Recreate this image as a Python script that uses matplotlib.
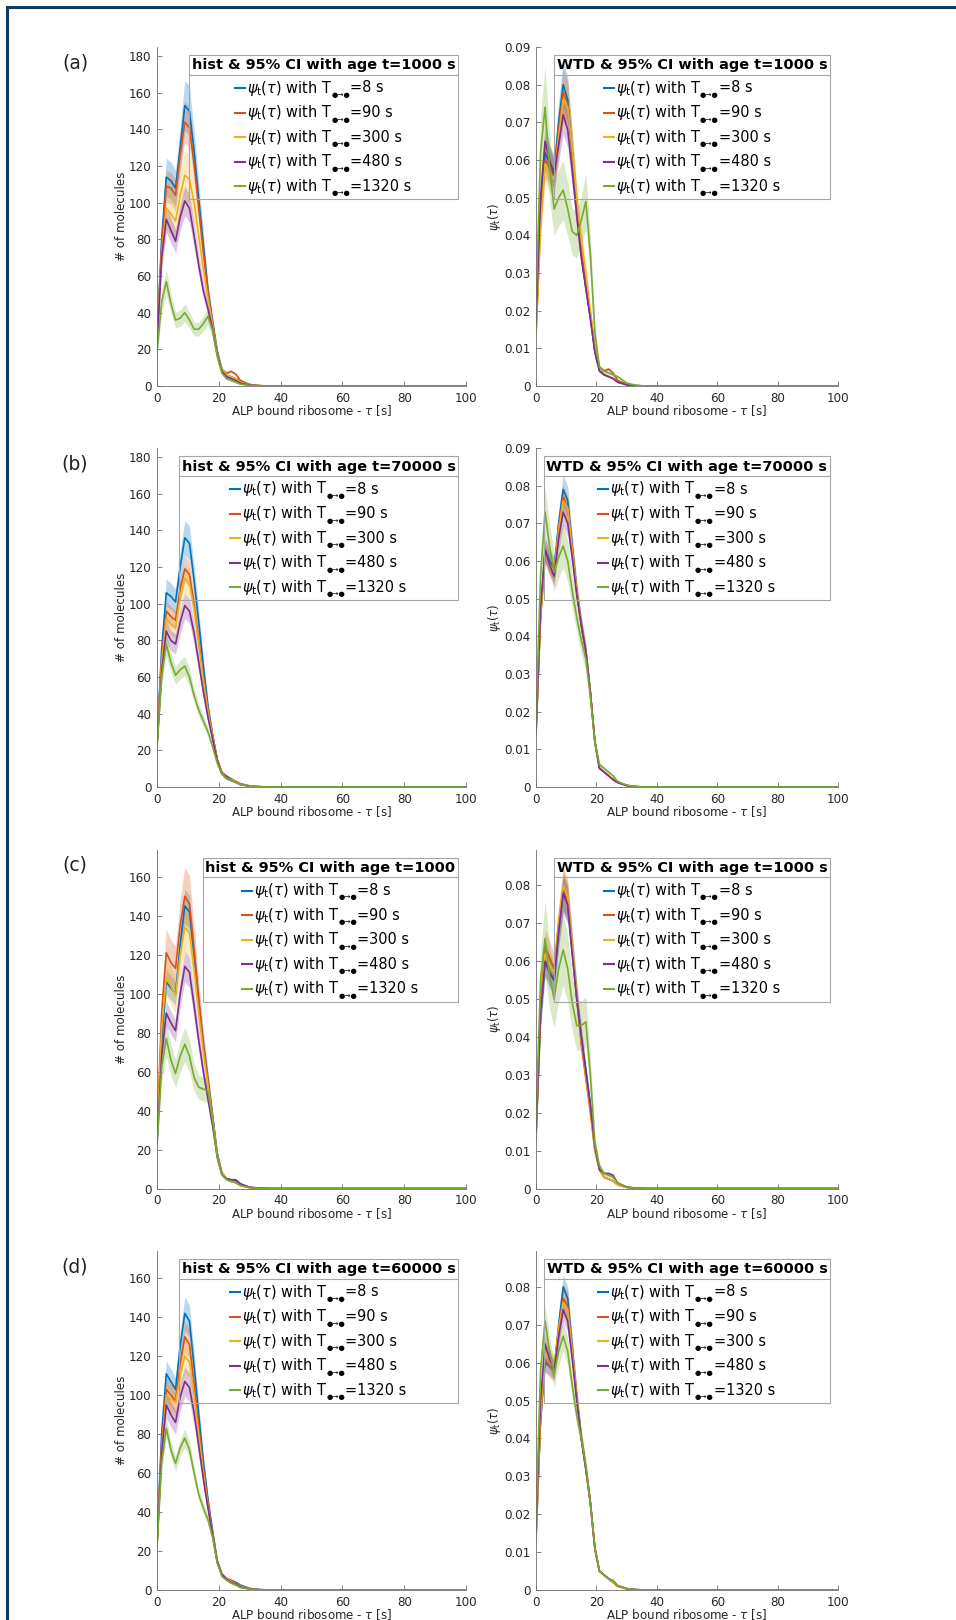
import numpy as np
import matplotlib
matplotlib.use("Agg")
import matplotlib.pyplot as plt
from matplotlib.lines import Line2D
from matplotlib.patches import Rectangle
from matplotlib.ticker import FuncFormatter

# ---------------- data ----------------
TAU = [0, 1.5, 3, 4.5, 6, 7.5, 9, 10.5, 12, 13.5, 15, 16.5, 18, 19.5, 21,
       22.5, 24, 25.5, 27, 30, 33, 36, 100]
T_LABELS = ["8 s", "90 s", "300 s", "480 s", "1320 s"]
PANEL_TAGS = ["(a)", "(b)", "(c)", "(d)"]
HIST_TITLES = ["hist & 95% CI with age t=1000 s", "hist & 95% CI with age t=70000 s",
               "hist & 95% CI with age t=1000", "hist & 95% CI with age t=60000 s"]
WTD_TITLES = ["WTD & 95% CI with age t=1000 s", "WTD & 95% CI with age t=70000 s",
              "WTD & 95% CI with age t=1000 s", "WTD & 95% CI with age t=60000 s"]

HIST_A = [
    [25, 80, 114, 112, 108, 130, 153, 150, 128, 102, 77, 52, 35, 19, 9, 6, 5, 4, 2.5, 0.8, 0.2, 0, 0],
    [25, 76, 109, 108, 104, 126, 144, 141, 121, 97, 73, 51, 34, 18, 9, 7, 8, 6.5, 3, 0.8, 0.2, 0, 0],
    [24, 72, 97, 94, 90, 104, 115, 113, 100, 82, 64, 48, 33, 18, 9, 6, 5, 4, 2, 0.6, 0.2, 0, 0],
    [22, 70, 91, 85, 79, 92, 101, 97, 82, 66, 52, 42, 31, 17, 8, 5, 4, 3, 1.5, 0.5, 0.1, 0, 0],
    [18, 46, 57, 45, 36, 37, 40, 36, 31, 31, 34, 38, 30, 16, 7, 4, 3, 2, 1, 0.3, 0.1, 0, 0],
]
WTD_A = [
    [0.015, 0.047, 0.062, 0.059, 0.057, 0.070, 0.080, 0.076, 0.062, 0.047, 0.035, 0.026, 0.018, 0.009, 0.004, 0.003, 0.0025, 0.002, 0.0012, 0.0004, 0.0001, 0, 0],
    [0.014, 0.044, 0.060, 0.058, 0.056, 0.068, 0.078, 0.075, 0.062, 0.048, 0.036, 0.027, 0.019, 0.010, 0.005, 0.004, 0.0045, 0.0035, 0.0015, 0.0005, 0.0001, 0, 0],
    [0.013, 0.042, 0.059, 0.056, 0.055, 0.066, 0.076, 0.074, 0.063, 0.050, 0.039, 0.030, 0.020, 0.010, 0.005, 0.003, 0.0025, 0.002, 0.001, 0.0003, 0.0001, 0, 0],
    [0.017, 0.050, 0.065, 0.060, 0.056, 0.064, 0.072, 0.068, 0.057, 0.045, 0.034, 0.026, 0.018, 0.009, 0.004, 0.003, 0.0025, 0.002, 0.001, 0.0003, 0.0001, 0, 0],
    [0.022, 0.062, 0.074, 0.058, 0.047, 0.050, 0.052, 0.047, 0.041, 0.040, 0.044, 0.049, 0.035, 0.014, 0.005, 0.004, 0.0035, 0.003, 0.0025, 0.0008, 0.0002, 0, 0],
]
HIST_B = [
    [25, 75, 106, 104, 101, 120, 136, 133, 113, 90, 66, 44, 28, 15, 8, 6, 4.5, 3, 1.8, 0.6, 0.2, 0, 0],
    [24, 70, 96, 93, 91, 108, 119, 116, 100, 80, 60, 42, 28, 15, 8, 5.5, 4, 3, 1.6, 0.5, 0.2, 0, 0],
    [23, 68, 92, 89, 87, 103, 114, 111, 97, 78, 58, 41, 27, 14, 7.5, 5, 4, 2.8, 1.5, 0.5, 0.2, 0, 0],
    [22, 63, 85, 80, 78, 90, 99, 96, 84, 68, 52, 38, 26, 14, 7, 5, 3.5, 2.5, 1.3, 0.4, 0.1, 0, 0],
    [22, 60, 78, 68, 61, 64, 66, 60, 50, 42, 36, 30, 22, 13, 7, 4.5, 3.5, 2.5, 1.2, 0.4, 0.1, 0, 0],
]
WTD_B = [
    [0.014, 0.046, 0.063, 0.060, 0.058, 0.070, 0.079, 0.076, 0.064, 0.052, 0.043, 0.036, 0.025, 0.012, 0.005, 0.004, 0.003, 0.002, 0.0012, 0.0004, 0.0001, 0, 0],
    [0.014, 0.045, 0.062, 0.059, 0.057, 0.069, 0.077, 0.074, 0.063, 0.052, 0.043, 0.036, 0.025, 0.012, 0.005, 0.004, 0.003, 0.002, 0.0012, 0.0004, 0.0001, 0, 0],
    [0.014, 0.045, 0.062, 0.059, 0.057, 0.068, 0.076, 0.074, 0.063, 0.052, 0.043, 0.036, 0.025, 0.012, 0.005, 0.004, 0.003, 0.002, 0.0012, 0.0004, 0.0001, 0, 0],
    [0.015, 0.047, 0.063, 0.059, 0.056, 0.066, 0.073, 0.070, 0.061, 0.051, 0.043, 0.036, 0.025, 0.012, 0.005, 0.004, 0.003, 0.002, 0.0012, 0.0004, 0.0001, 0, 0],
    [0.018, 0.056, 0.073, 0.064, 0.057, 0.061, 0.064, 0.060, 0.052, 0.045, 0.039, 0.034, 0.024, 0.012, 0.006, 0.005, 0.004, 0.003, 0.0015, 0.0005, 0.0001, 0, 0],
]
HIST_C = [
    [25, 75, 106, 103, 100, 125, 145, 142, 120, 96, 74, 56, 37, 18, 8, 5, 4.5, 4, 2, 0.6, 0.2, 0, 0],
    [28, 90, 121, 116, 113, 135, 150, 146, 123, 97, 74, 55, 36, 17, 8, 5, 4, 3, 1.6, 0.5, 0.2, 0, 0],
    [26, 82, 108, 104, 99, 120, 134, 131, 112, 90, 70, 53, 35, 17, 8, 5, 4, 3, 1.5, 0.5, 0.2, 0, 0],
    [23, 68, 90, 85, 81, 100, 114, 111, 94, 76, 60, 46, 32, 16, 7, 5, 4.5, 4.5, 2.5, 0.6, 0.2, 0, 0],
    [22, 62, 77, 66, 59, 68, 74, 68, 57, 52, 51, 50, 35, 16, 7, 4.5, 3.5, 3, 1.5, 0.4, 0.1, 0, 0],
]
WTD_C = [
    [0.014, 0.045, 0.060, 0.057, 0.055, 0.068, 0.078, 0.075, 0.063, 0.051, 0.040, 0.031, 0.022, 0.011, 0.005, 0.003, 0.0025, 0.002, 0.001, 0.0003, 0.0001, 0, 0],
    [0.013, 0.048, 0.064, 0.061, 0.058, 0.070, 0.079, 0.076, 0.063, 0.050, 0.038, 0.029, 0.020, 0.010, 0.005, 0.003, 0.0025, 0.002, 0.001, 0.0003, 0.0001, 0, 0],
    [0.013, 0.046, 0.062, 0.059, 0.057, 0.070, 0.080, 0.077, 0.064, 0.051, 0.039, 0.030, 0.021, 0.010, 0.005, 0.003, 0.0025, 0.002, 0.001, 0.0003, 0.0001, 0, 0],
    [0.015, 0.046, 0.060, 0.057, 0.055, 0.068, 0.078, 0.075, 0.062, 0.050, 0.040, 0.031, 0.022, 0.011, 0.005, 0.004, 0.004, 0.0035, 0.0015, 0.0004, 0.0001, 0, 0],
    [0.018, 0.055, 0.066, 0.056, 0.050, 0.058, 0.063, 0.058, 0.049, 0.043, 0.043, 0.044, 0.030, 0.012, 0.006, 0.004, 0.0035, 0.003, 0.0015, 0.0004, 0.0001, 0, 0],
]
HIST_D = [
    [25, 80, 111, 107, 103, 125, 142, 138, 115, 90, 66, 46, 30, 15, 8, 6, 5, 4, 2.5, 0.8, 0.2, 0, 0],
    [24, 75, 103, 100, 97, 116, 130, 126, 106, 84, 63, 45, 29, 15, 8, 6, 5, 3.5, 2, 0.6, 0.2, 0, 0],
    [23, 72, 100, 98, 96, 110, 120, 117, 100, 80, 60, 43, 28, 14, 8, 6, 4.5, 3, 1.8, 0.5, 0.2, 0, 0],
    [23, 70, 95, 90, 86, 99, 107, 104, 91, 74, 57, 42, 28, 14, 8, 5.5, 4, 3, 1.5, 0.5, 0.2, 0, 0],
    [22, 65, 83, 72, 65, 73, 78, 72, 60, 49, 42, 36, 27, 14, 7, 5, 3.5, 2.5, 1.2, 0.4, 0.1, 0, 0],
]
WTD_D = [
    [0.014, 0.045, 0.060, 0.059, 0.058, 0.070, 0.080, 0.077, 0.064, 0.051, 0.040, 0.032, 0.023, 0.011, 0.005, 0.004, 0.003, 0.002, 0.001, 0.0003, 0.0001, 0, 0],
    [0.013, 0.045, 0.061, 0.059, 0.058, 0.069, 0.077, 0.075, 0.063, 0.051, 0.040, 0.032, 0.023, 0.011, 0.005, 0.004, 0.003, 0.002, 0.001, 0.0003, 0.0001, 0, 0],
    [0.013, 0.046, 0.063, 0.061, 0.059, 0.069, 0.076, 0.074, 0.063, 0.051, 0.040, 0.032, 0.023, 0.011, 0.005, 0.004, 0.003, 0.002, 0.001, 0.0003, 0.0001, 0, 0],
    [0.016, 0.050, 0.065, 0.061, 0.058, 0.067, 0.074, 0.071, 0.061, 0.050, 0.040, 0.032, 0.023, 0.011, 0.005, 0.004, 0.003, 0.0025, 0.0012, 0.0004, 0.0001, 0, 0],
    [0.018, 0.058, 0.071, 0.063, 0.057, 0.063, 0.067, 0.063, 0.054, 0.046, 0.040, 0.033, 0.023, 0.011, 0.005, 0.004, 0.003, 0.0025, 0.0012, 0.0004, 0.0001, 0, 0],
]
# estimated relative half-width of the 95% CI band, per series
CI_HIST = [[0.09, 0.08, 0.12, 0.08, 0.12], [0.07, 0.06, 0.07, 0.07, 0.08],
           [0.06, 0.10, 0.09, 0.07, 0.12], [0.06, 0.06, 0.07, 0.07, 0.06]]
CI_WTD = [[0.08, 0.08, 0.08, 0.07, 0.15], [0.05, 0.04, 0.05, 0.05, 0.09],
          [0.07, 0.07, 0.06, 0.06, 0.15], [0.04, 0.05, 0.05, 0.04, 0.06]]
HIST_YMAX = [185, 185, 174, 174]
WTD_YMAX = [0.09, 0.09, 0.0895, 0.0895]
HIST_YTICKS = [list(range(0, 181, 20)), list(range(0, 181, 20)),
               list(range(0, 161, 20)), list(range(0, 161, 20))]
WTD_YTICKS = [[0, .01, .02, .03, .04, .05, .06, .07, .08, .09]] * 2 + \
             [[0, .01, .02, .03, .04, .05, .06, .07, .08]] * 2
XTICKS = [0, 20, 40, 60, 80, 100]

HIST_DATA = [HIST_A, HIST_B, HIST_C, HIST_D]
WTD_DATA = [WTD_A, WTD_B, WTD_C, WTD_D]

COLORS = ["#0072BD", "#D95319", "#EDB120", "#7E2F8E", "#77AC30"]

# ---------------- layout ----------------
W, H = 956, 1620
fig = plt.figure(figsize=(W / 100, H / 100), dpi=100)
plt.rcParams['mathtext.fontset'] = 'dejavusans'
renderer = fig.canvas.get_renderer()

TXT = "#262626"
AX_TOPS = [47, 448, 849.5, 1251]
AX_H = 339
LEFT_X, LEFT_W = 157, 309
RIGHT_X, RIGHT_W = 536, 302


def fx(x):
    return x / W


def fy(y):
    return 1 - y / H


def text_width(s, **kw):
    t = fig.text(0, 0, s, **kw)
    w = t.get_window_extent(renderer).width
    t.remove()
    return w


base_title = text_width("hist & 95% CI with age t=1000 s", fontsize=10, fontweight="bold")
TITLE_FS = 10 * 263 / base_title

ENTRY_HEAD = r"$\psi_{\rm t}(\tau)$ with T"
SUB = "\u25cf\u2192\u25cf"


def entry_tail(lbl):
    return "=" + lbl


# measure widest entry at 10pt: head + subscript(~0.55 size) + tail
def entry_parts_width(lbl, fs):
    return (text_width(ENTRY_HEAD, fontsize=fs) + text_width(SUB, fontsize=fs * 0.5) +
            text_width(entry_tail(lbl), fontsize=fs))


ENTRY_FS = 10 * 165 / entry_parts_width("1320 s", 10)


def draw_entry(x, ybase, lbl):
    t1 = fig.text(fx(x), fy(ybase), ENTRY_HEAD, fontsize=ENTRY_FS, ha="left",
                  va="baseline", color="black", zorder=12)
    w1 = text_width(ENTRY_HEAD, fontsize=ENTRY_FS)
    fig.text(fx(x + w1 - 0.5), fy(ybase + 4.5), SUB, fontsize=ENTRY_FS * 0.5, ha="left",
             va="baseline", color="black", zorder=12)
    w2 = text_width(SUB, fontsize=ENTRY_FS * 0.5)
    fig.text(fx(x + w1 + w2 - 0.5), fy(ybase), entry_tail(lbl), fontsize=ENTRY_FS,
             ha="left", va="baseline", color="black", zorder=12)


def draw_legend(ax_right, ax_top, title):
    R = ax_right - 8
    T = ax_top + 8
    tw = text_width(title, fontsize=TITLE_FS, fontweight="bold")
    L = R - tw - 5
    fig.add_artist(Rectangle((fx(L), fy(T + 144)), fx(R - L), (144) / H,
                             transform=fig.transFigure, facecolor="none",
                             edgecolor="#a6a6a6", lw=0.8, zorder=10))
    fig.add_artist(Line2D([fx(L), fx(R)], [fy(T + 20), fy(T + 20)],
                          transform=fig.transFigure, color="#a6a6a6", lw=0.8, zorder=11))
    fig.text(fx((L + R) / 2), fy(T + 10.5), title, fontsize=TITLE_FS, fontweight="bold",
             ha="center", va="center", color="black", zorder=12)
    wmax = max(entry_parts_width(l, ENTRY_FS) for l in T_LABELS)
    block = 12 + wmax
    xs = (L + R) / 2 - block / 2
    for k, lbl in enumerate(T_LABELS):
        yl = T + 33 + 24.6 * k
        fig.add_artist(Line2D([fx(xs), fx(xs + 10)], [fy(yl), fy(yl)],
                              transform=fig.transFigure, color=COLORS[k], lw=1.5, zorder=12))
        draw_entry(xs + 12, yl + 4.5, lbl)


def style_axes(ax, ymax, yticks):
    ax.set_xlim(0, 100)
    ax.set_ylim(0, ymax)
    ax.set_xticks(XTICKS)
    ax.set_yticks(yticks)
    ax.yaxis.set_major_formatter(FuncFormatter(lambda v, p: "%g" % round(v, 4)))
    for s in ["top", "right"]:
        ax.spines[s].set_visible(False)
    for s in ["left", "bottom"]:
        ax.spines[s].set_color("#6e6e6e")
        ax.spines[s].set_linewidth(0.6)
    ax.tick_params(direction="in", length=3.5, width=0.6, color="#6e6e6e",
                   labelsize=8.6, labelcolor=TXT, pad=4)
    ax.set_xlabel(r"ALP bound ribosome - $\tau$ [s]", fontsize=8.6, color=TXT, labelpad=-1)


tau = np.array(TAU)
for r in range(4):
    top = AX_TOPS[r]
    axl = fig.add_axes([fx(LEFT_X), fy(top + AX_H), LEFT_W / W, AX_H / H])
    for k in range(5):
        v = np.array(HIST_DATA[r][k])
        c = CI_HIST[r][k]
        axl.fill_between(tau, v * (1 - c), v * (1 + c), color=COLORS[k], alpha=0.27, lw=0)
        axl.plot(tau, v, color=COLORS[k], lw=1.2)
    style_axes(axl, HIST_YMAX[r], HIST_YTICKS[r])
    axl.set_ylabel("# of molecules", fontsize=8.6, color=TXT)
    axl.yaxis.set_label_coords((128 - LEFT_X) / LEFT_W, 0.5)

    axr = fig.add_axes([fx(RIGHT_X), fy(top + AX_H), RIGHT_W / W, AX_H / H])
    for k in range(5):
        v = np.array(WTD_DATA[r][k])
        c = CI_WTD[r][k]
        axr.fill_between(tau, v * (1 - c), v * (1 + c), color=COLORS[k], alpha=0.27, lw=0)
        axr.plot(tau, v, color=COLORS[k], lw=1.2)
    style_axes(axr, WTD_YMAX[r], WTD_YTICKS[r])
    axr.set_ylabel(r"$\psi_{\rm t}(\tau)$", fontsize=8.5, color=TXT)
    axr.yaxis.set_label_coords((503 - RIGHT_X) / RIGHT_W, 0.5)

    draw_legend(LEFT_X + LEFT_W, top, HIST_TITLES[r])
    draw_legend(RIGHT_X + RIGHT_W, top, WTD_TITLES[r])

    fig.text(fx(75), fy(top + 16), PANEL_TAGS[r], fontsize=13.5, color="#222222",
             ha="center", va="center")

# page frame (top and left edges)
fig.add_artist(Line2D([fx(7), fx(W)], [fy(7), fy(7)], transform=fig.transFigure,
                      color="#0d3868", lw=2.2))
fig.add_artist(Line2D([fx(7), fx(7)], [fy(7), fy(H)], transform=fig.transFigure,
                      color="#0d3868", lw=2.2))

fig.savefig("out.png", dpi=100)
